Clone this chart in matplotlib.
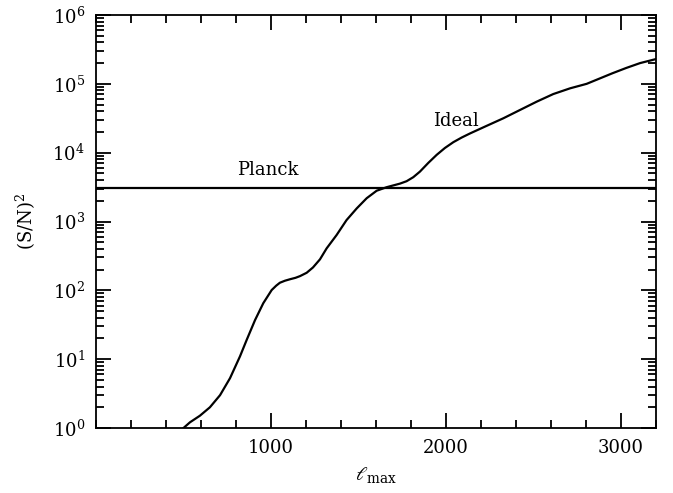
import numpy as np
import matplotlib
matplotlib.use("Agg")
import matplotlib.pyplot as plt
from matplotlib.ticker import LogLocator, MultipleLocator, FixedLocator, NullFormatter

ell_ideal = [500, 537, 594, 651, 709, 766, 823, 861, 909, 956, 1004, 1030, 1051,
             1080, 1109, 1140, 1166, 1204, 1240, 1280, 1318, 1375, 1432, 1490,
             1547, 1604, 1661, 1700, 1737, 1775, 1813, 1851, 1899, 1947, 1994,
             2042, 2090, 2137, 2232, 2328, 2423, 2518, 2613, 2709, 2804, 2880,
             2950, 3030, 3109, 3200]
sn2_ideal = [1.0, 1.21, 1.51, 2.0, 3.0, 5.3, 11, 19, 37, 65, 101, 117, 129,
             138, 145, 152, 161, 180, 215, 282, 407, 636, 1050, 1550,
             2180, 2800, 3150, 3350, 3550, 3850, 4400, 5300, 7100, 9300, 11700,
             14200, 16600, 19000, 24500, 31600, 41700, 55000, 71000, 86000, 100000, 120000,
             142000, 170000, 200000, 229000]

# Planck level (flat)
ell_planck = [0, 3200]
sn2_planck = [3100, 3100]

xticks = [1000, 2000, 3000]
ydecades = [0, 1, 2, 3, 4, 5, 6]

plt.rcParams['font.family'] = ['DejaVu Serif']
plt.rcParams['mathtext.fontset'] = 'dejavuserif'

fig = plt.figure(figsize=(6.73, 4.93), dpi=100)
ax = fig.add_subplot(111)
fig.subplots_adjust(left=0.1426, right=0.9747, top=0.9696, bottom=0.1318)

ax.plot(ell_ideal, sn2_ideal, color='black', lw=1.6, solid_joinstyle='round')
ax.plot(ell_planck, sn2_planck, color='black', lw=1.6)

ax.set_yscale('log')
ax.set_xlim(0, 3200)
ax.set_ylim(1, 1e6)

ax.xaxis.set_major_locator(FixedLocator(xticks))
ax.xaxis.set_minor_locator(MultipleLocator(200))
ax.yaxis.set_major_locator(FixedLocator([10.0 ** d for d in ydecades]))
ax.yaxis.set_minor_locator(LogLocator(base=10, subs=np.arange(2, 10), numticks=20))
ax.yaxis.set_minor_formatter(NullFormatter())
ax.set_yticklabels([r'$10^{%d}$' % d for d in ydecades])
ax.set_xticklabels([str(t) for t in xticks])

ax.tick_params(which='both', direction='in', top=True, right=True, labelsize=13, width=1.3)
ax.tick_params(which='major', length=11, pad=8)
ax.tick_params(which='minor', length=5.5)
for s in ax.spines.values():
    s.set_linewidth(1.3)

ax.text(804, 4740, 'Planck', fontsize=13, ha='left', va='baseline')
ax.text(1924, 24400, 'Ideal', fontsize=13, ha='left', va='baseline')

ax.set_xlabel(r'$\ell_{\rm max}$', fontsize=14, labelpad=6)
ax.set_ylabel(r'(S/N)$^2$', fontsize=13, labelpad=10)

fig.savefig('out.png', dpi=100)
